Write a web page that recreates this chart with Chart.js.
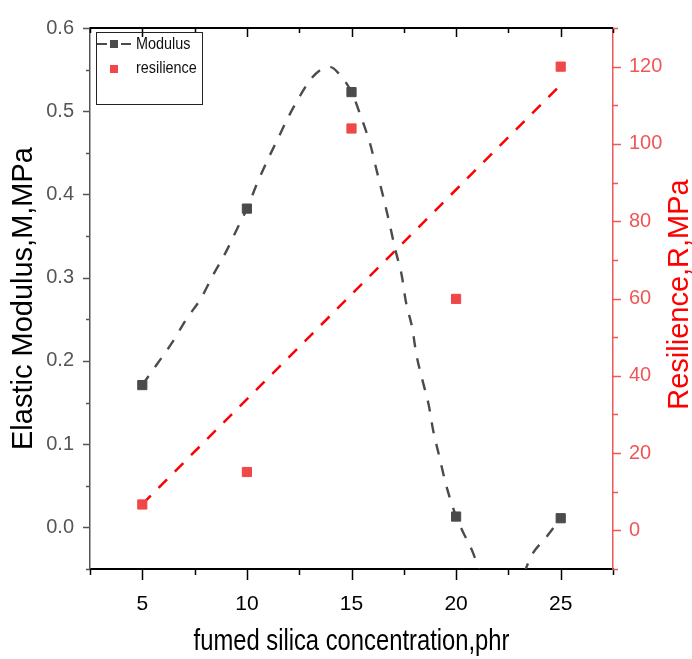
<!DOCTYPE html>
<html>
<head>
<meta charset="utf-8">
<script src="https://cdn.jsdelivr.net/npm/chart.js@4.4.1/dist/chart.umd.min.js"></script>
<style>
    html, body { margin: 0; padding: 0; background: #fff; }
</style>
</head>
<body>
<canvas id="myChart" width="692" height="659"></canvas>
<script>
const FONT = "'Liberation Sans', Arial, sans-serif";

// measured points
const concentration = [5, 10, 15, 20, 25];
const modulus = [0.171, 0.383, 0.523, 0.013, 0.011];
const resilience = [6.7, 15.1, 104.0, 59.9, 120.0];

// dashed curve through the modulus points
const modulusCurveX = [5, 5.7, 6.4, 7.1, 7.8, 8.4, 9.0, 9.5, 10, 10.5, 11.0, 11.5, 12.0, 12.6, 13.1, 13.6, 14.0, 14.4, 15,
    15.5, 15.9, 16.2, 16.5, 16.8, 17.1, 17.4, 17.6, 17.9, 18.1, 18.4, 18.7, 18.9, 19.2, 19.5, 20,
    20.3, 20.8, 21.2, 21.7, 22.3, 22.9, 23.3, 23.6, 24.3, 25];
const modulusCurveY = [0.171, 0.196, 0.221, 0.250, 0.275, 0.304, 0.331, 0.357, 0.383, 0.414, 0.442, 0.468, 0.494, 0.521, 0.540, 0.551, 0.553, 0.545, 0.523,
    0.490, 0.460, 0.429, 0.399, 0.367, 0.333, 0.303, 0.271, 0.240, 0.208, 0.176, 0.146, 0.117, 0.085, 0.053, 0.013,
    -0.004, -0.030, -0.058, -0.085, -0.095, -0.080, -0.052, -0.034, -0.012, 0.011];

// red dashed straight fit of resilience
const resilienceFitX = [5, 25];
const resilienceFitY = [6.8, 115.3];

// axis ticks
const xTicks = [5, 10, 15, 20, 25];
const xMinor = [2.5, 7.5, 12.5, 17.5, 22.5, 27.5];
const leftTicks = [0, 0.1, 0.2, 0.3, 0.4, 0.5, 0.6];
const leftMinor = [-0.05, 0.05, 0.15, 0.25, 0.35, 0.45, 0.55];
const rightTicks = [0, 20, 40, 60, 80, 100, 120];
const rightMinor = [-10, 10, 30, 50, 70, 90, 110, 130];

const GRAY = '#4b4b4b';
const RED_MARK = '#f04848';
const RED_AXIS = '#f05656';

function pairs(xs, ys) {
    return xs.map((v, i) => ({x: v, y: ys[i]}));
}

function line(ctx, x1, y1, x2, y2) {
    ctx.beginPath();
    ctx.moveTo(x1, y1);
    ctx.lineTo(x2, y2);
    ctx.stroke();
}

// minor/major ticks, top frame, titles and the boxed legend
const decor = {
    id: 'decor',
    afterDraw(chart) {
        const {ctx, chartArea: a} = chart;
        const {x, y, y1} = chart.scales;
        ctx.save();

        ctx.strokeStyle = '#000';
        ctx.lineWidth = 2;
        line(ctx, a.left, a.top, a.right, a.top);

        ctx.lineWidth = 1.5;
        xTicks.forEach(v => {
            const p = Math.round(x.getPixelForValue(v)) + 0.5;
            line(ctx, p, a.bottom, p, a.bottom + 11);
            line(ctx, p, a.top, p, a.top + 9);
        });
        xMinor.forEach(v => {
            const p = Math.round(x.getPixelForValue(v)) + 0.5;
            line(ctx, p, a.bottom, p, a.bottom + 6);
            line(ctx, p, a.top, p, a.top + 5);
        });

        ctx.strokeStyle = '#555';
        leftTicks.forEach(v => {
            const p = Math.round(y.getPixelForValue(v)) + 0.5;
            line(ctx, a.left - 7, p, a.left, p);
        });
        leftMinor.forEach(v => {
            const p = Math.round(y.getPixelForValue(v)) + 0.5;
            line(ctx, a.left - 4, p, a.left, p);
        });

        ctx.strokeStyle = RED_AXIS;
        rightTicks.forEach(v => {
            const p = Math.round(y1.getPixelForValue(v)) + 0.5;
            line(ctx, a.right, p, a.right + 8, p);
        });
        rightMinor.forEach(v => {
            const p = Math.round(y1.getPixelForValue(v)) + 0.5;
            line(ctx, a.right, p, a.right + 5, p);
        });

        ctx.textAlign = 'center';
        ctx.textBaseline = 'middle';

        // bottom title, slightly condensed like the original
        ctx.save();
        ctx.translate((a.left + a.right) / 2, 642);
        ctx.scale(0.82, 1);
        ctx.fillStyle = '#000';
        ctx.font = '29px ' + FONT;
        ctx.fillText('fumed silica concentration,phr', 0, 0);
        ctx.restore();

        // right axis title, reading upwards
        ctx.save();
        ctx.translate(680, (a.top + a.bottom) / 2 - 4);
        ctx.rotate(-Math.PI / 2);
        ctx.fillStyle = '#ff0000';
        ctx.font = '29px ' + FONT;
        ctx.fillText('Resilience,R,MPa', 0, 0);
        ctx.restore();

        // legend
        ctx.strokeStyle = '#222';
        ctx.lineWidth = 1;
        ctx.strokeRect(96.5, 32.5, 106, 72);
        ctx.strokeStyle = GRAY;
        ctx.lineWidth = 2;
        line(ctx, 97, 44, 107, 44);
        line(ctx, 121, 44, 131, 44);
        ctx.fillStyle = GRAY;
        ctx.fillRect(110, 40, 8, 8);
        ctx.fillStyle = RED_MARK;
        ctx.fillRect(110, 65, 8, 8);
        ctx.fillStyle = '#111';
        ctx.font = '16px ' + FONT;
        ctx.textAlign = 'left';
        ctx.save();
        ctx.translate(136, 0);
        ctx.scale(0.9, 1);
        ctx.fillText('Modulus', 0, 45);
        ctx.fillText('resilience', 0, 69);
        ctx.restore();

        ctx.restore();
    }
};

const ctx = document.getElementById('myChart');
const chart = new Chart(ctx, {
    type: 'scatter',
    data: {
        datasets: [
            {
                label: 'Modulus',
                data: pairs(concentration, modulus),
                yAxisID: 'y',
                pointStyle: 'rect',
                pointRadius: 6.5,
                pointBorderWidth: 1,
                backgroundColor: GRAY,
                borderColor: GRAY,
                showLine: false,
                order: 0
            },
            {
                label: 'resilience',
                data: pairs(concentration, resilience),
                yAxisID: 'y1',
                pointStyle: 'rect',
                pointRadius: 6.5,
                pointBorderWidth: 1,
                backgroundColor: RED_MARK,
                borderColor: RED_MARK,
                showLine: false,
                order: 0
            },
            {
                label: 'Modulus fit',
                data: pairs(modulusCurveX, modulusCurveY),
                yAxisID: 'y',
                showLine: true,
                pointRadius: 0,
                borderColor: GRAY,
                borderWidth: 2.4,
                borderDash: [11, 11],
                cubicInterpolationMode: 'monotone',
                order: 1
            },
            {
                label: 'resilience fit',
                data: pairs(resilienceFitX, resilienceFitY),
                yAxisID: 'y1',
                showLine: true,
                pointRadius: 0,
                borderColor: '#ff0000',
                borderWidth: 2.5,
                borderDash: [12, 11],
                order: 1
            }
        ]
    },
    options: {
        responsive: false,
        animation: false,
        layout: {padding: {top: 24, left: 0, right: 0, bottom: 0}},
        plugins: {
            legend: {display: false},
            tooltip: {enabled: false}
        },
        scales: {
            x: {
                type: 'linear',
                position: 'bottom',
                min: 2.5,
                max: 27.5,
                afterFit: s => { s.height = 90; },
                afterBuildTicks: s => { s.ticks = xTicks.map(v => ({value: v})); },
                grid: {display: false, drawTicks: false},
                border: {display: true, color: '#000', width: 2},
                ticks: {padding: 23, autoSkip: false, maxRotation: 0, color: '#000', font: {family: FONT, size: 21}},
                title: {display: false}
            },
            y: {
                type: 'linear',
                position: 'left',
                min: -0.05,
                max: 0.6,
                afterFit: s => { s.width = 90; },
                afterBuildTicks: s => { s.ticks = leftTicks.map(v => ({value: v})); },
                grid: {display: false, drawTicks: false},
                border: {display: true, color: '#555', width: 1.5},
                ticks: {
                    padding: 16,
                    autoSkip: false,
                    color: '#555',
                    font: {family: FONT, size: 20},
                    callback: v => v.toFixed(1)
                },
                title: {
                    display: true,
                    text: 'Elastic Modulus,M,MPa',
                    color: '#000',
                    font: {family: FONT, size: 29},
                    padding: {top: 7, bottom: 0}
                }
            },
            y1: {
                type: 'linear',
                position: 'right',
                min: -10,
                max: 130,
                afterFit: s => { s.width = 79; },
                afterBuildTicks: s => { s.ticks = rightTicks.map(v => ({value: v})); },
                grid: {display: false, drawTicks: false},
                border: {display: true, color: RED_AXIS, width: 1.5},
                ticks: {padding: 16, autoSkip: false, color: RED_AXIS, font: {family: FONT, size: 20}}
            }
        }
    },
    plugins: [decor]
});
</script>
</body>
</html>
